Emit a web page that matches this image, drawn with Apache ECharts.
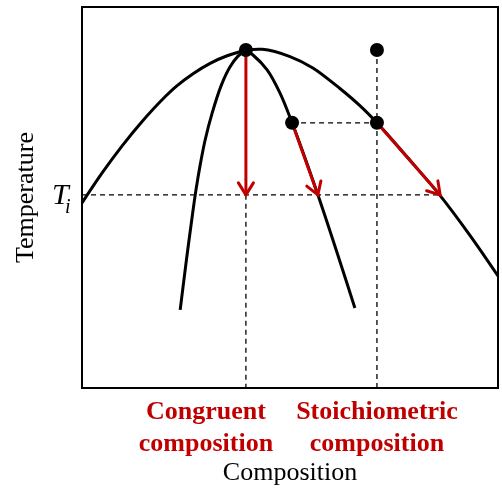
<!DOCTYPE html>
<html>
<head>
<meta charset="utf-8">
<script src="https://cdn.jsdelivr.net/npm/echarts@6/dist/echarts.min.js"></script>
<style>html,body{margin:0;padding:0;background:#fff}#c{width:502px;height:496px}</style>
</head>
<body>
<div id="c"></div>
<script>
// Schematic phase diagram (composition 0..100, temperature 0..100)
const outerCurve = [[0,48.6],[4.8,56.4],[9.6,63.5],[14.4,69.9],[19.2,75.6],[22.8,79.3],[26.7,82.5],[30.8,85.2],[34.9,87.2],[39.4,88.6],[43.3,88.9],[50.0,87.0],[55.5,84.0],[62.0,78.6],[66.8,74.1],[70.9,69.6],[78.1,60.7],[86.1,50.5],[93.3,40.0],[100,29.4]];
const innerLeft = [[23.6,20.5],[25.1,33.6],[26.7,46.7],[27.4,52.0],[28.4,58.5],[29.6,65.1],[31.3,72.2],[33.5,79.5],[35.6,84.3],[37.5,87.1],[39.4,88.7]];
const innerRight = [[39.4,88.7],[41.1,87.4],[44.5,83.5],[47.6,77.4],[50.5,69.6],[56.7,50.7],[65.6,21.0]];
const dots = [[39.4,88.7],[70.9,88.7],[50.5,69.6],[70.9,69.6]];
const Ti = 50.7;
const congruentX = 39.4;
const stoichX = 70.9;
const dashedLines = [
  [[0,Ti],[86.1,Ti]],
  [[congruentX,Ti],[congruentX,0]],
  [[50.5,69.6],[stoichX,69.6]],
  [[stoichX,88.7],[stoichX,0]]
];
const arrows = [[39.4,88.7,39.4,Ti],[50.5,69.6,56.7,Ti],[70.9,69.6,86.1,Ti]];
const labels = {x:'Composition', y:'Temperature', congruent:'Congruent\ncomposition', stoich:'Stoichiometric\ncomposition'};

const RED = '#c00000';
const SERIF = '"Liberation Serif","Times New Roman",serif';
const chart = echarts.init(document.getElementById('c'));

function splineSeries(curve){
  return {type:'custom', data:curve, z:2, encode:{x:0, y:1},
    renderItem:function(params, api){
      if (params.dataIndex !== 0) return null;
      const P = curve.map(function(p){ return api.coord(p); });
      const n = P.length;
      const dist = function(a,b){ return Math.pow(Math.hypot(a[0]-b[0], a[1]-b[1]), 0.5); };
      let d = 'M' + P[0][0] + ' ' + P[0][1];
      for (let i = 0; i < n - 1; i++) {
        const p0 = P[Math.max(i-1,0)], p1 = P[i], p2 = P[i+1], p3 = P[Math.min(i+2,n-1)];
        const d1 = dist(p0,p1), d2 = dist(p1,p2), d3 = dist(p2,p3);
        let c1, c2;
        if (d1 < 1e-6) c1 = p1.slice(); else {
          const a = 2*d1*d1 + 3*d1*d2 + d2*d2, b = 3*d1*(d1+d2);
          c1 = [(d1*d1*p2[0] - d2*d2*p0[0] + a*p1[0]) / b, (d1*d1*p2[1] - d2*d2*p0[1] + a*p1[1]) / b];
        }
        if (d3 < 1e-6) c2 = p2.slice(); else {
          const a = 2*d3*d3 + 3*d3*d2 + d2*d2, b = 3*d3*(d3+d2);
          c2 = [(d3*d3*p1[0] - d2*d2*p3[0] + a*p2[0]) / b, (d3*d3*p1[1] - d2*d2*p3[1] + a*p2[1]) / b];
        }
        d += ' C' + c1[0] + ' ' + c1[1] + ' ' + c2[0] + ' ' + c2[1] + ' ' + p2[0] + ' ' + p2[1];
      }
      return {type:'path', shape:{pathData:d}, style:{stroke:'#000', lineWidth:3, fill:null, lineJoin:'round'}};
    }};
}

const series = [];
dashedLines.forEach(function(seg){
  series.push({type:'line', data:seg, symbol:'none', silent:true, z:1,
    lineStyle:{color:'#000', width:1.3, type:[5,4]}});
});
[outerCurve, innerLeft, innerRight].forEach(function(curve){ series.push(splineSeries(curve)); });
series.push({type:'custom', data:arrows, z:3, encode:{x:[0,2], y:[1,3]},
  renderItem:function(params, api){
    const p1 = api.coord([api.value(0), api.value(1)]);
    const p2 = api.coord([api.value(2), api.value(3)]);
    const dx = p2[0]-p1[0], dy = p2[1]-p1[1], L = Math.hypot(dx,dy);
    const ux = dx/L, uy = dy/L, px = -uy, py = ux;
    const hl = 12, hw = 7.5;
    return {type:'group', children:[
      {type:'line', shape:{x1:p1[0], y1:p1[1], x2:p2[0]-ux*1.5, y2:p2[1]-uy*1.5},
        style:{stroke:RED, lineWidth:3}},
      {type:'polyline', shape:{points:[[p2[0]-ux*hl+px*hw, p2[1]-uy*hl+py*hw],[p2[0],p2[1]],[p2[0]-ux*hl-px*hw, p2[1]-uy*hl-py*hw]]},
        style:{stroke:RED, lineWidth:3, fill:null, lineCap:'round'}}
    ]};
  }});
series.push({type:'scatter', data:dots, symbol:'circle', symbolSize:14, z:4, itemStyle:{color:'#000', opacity:1}});

chart.setOption({
  animation:false,
  grid:{left:82, top:7, width:416, height:381, show:true, borderColor:'#000', borderWidth:2, backgroundColor:'transparent'},
  xAxis:{type:'value', min:0, max:100, name:labels.x, nameLocation:'middle', nameGap:72,
    nameTextStyle:{fontFamily:SERIF, fontSize:26, color:'#000'},
    axisLine:{show:false}, axisTick:{show:false}, axisLabel:{show:false}, splitLine:{show:false}},
  yAxis:{type:'value', min:0, max:100, name:labels.y, nameLocation:'middle', nameGap:43,
    nameTextStyle:{fontFamily:SERIF, fontSize:26, color:'#000'},
    axisLine:{show:false}, axisTick:{show:false}, axisLabel:{show:false}, splitLine:{show:false}},
  graphic:[
    {type:'text', x:206, y:428, style:{text:labels.congruent, font:'bold 26px '+SERIF, fill:RED, textAlign:'center', textVerticalAlign:'middle', lineHeight:32}},
    {type:'text', x:377, y:428, style:{text:labels.stoich, font:'bold 26px '+SERIF, fill:RED, textAlign:'center', textVerticalAlign:'middle', lineHeight:32}},
    {type:'text', x:52, y:196, style:{text:'T', font:'italic 30px '+SERIF, fill:'#000', textAlign:'left', textVerticalAlign:'middle'}},
    {type:'text', x:65, y:208, style:{text:'i', font:'italic 20px '+SERIF, fill:'#000', textAlign:'left', textVerticalAlign:'middle'}}
  ],
  series:series
});
</script>
</body>
</html>
